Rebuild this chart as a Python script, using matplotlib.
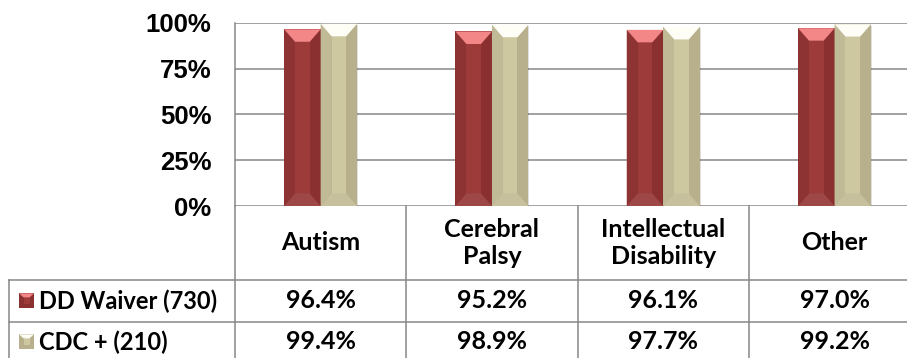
import matplotlib
matplotlib.use("Agg")
from matplotlib import pyplot as plt
from matplotlib import transforms
from matplotlib.patches import Polygon, Rectangle

categories = ["Autism", "Cerebral\nPalsy", "Intellectual\nDisability", "Other"]
series_names = ["DD Waiver (730)", "CDC + (210)"]
dd_waiver = [96.4, 95.2, 96.1, 97.0]
cdc_plus = [99.4, 98.9, 97.7, 99.2]
yticks = [0, 25, 50, 75, 100]

# side, centre, top, bottom facet colours for each series
palettes = [
    dict(side="#8a3030", left="#8e3333", centre="#9c3b3a", top="#f38686", bottom="#9d4747"),
    dict(side="#b8b08c", left="#c1ba97", centre="#cec8a1", top="#fffef6", bottom="#c7c09d"),
]

W, H = 907, 358
DPI = 100
GRID = "#878787"
TABLE_FONT = "Lato"

fig = plt.figure(figsize=(W / DPI, H / DPI), dpi=DPI)

# plot area in pixels
left_px, right_px = 235, 907
top_px, bottom_px = 22.7, 206
col_px = 171.3
ax = fig.add_axes([left_px / W, 1 - bottom_px / H,
                   (right_px - left_px) / W, (bottom_px - top_px) / H])
ax.set_xlim(-0.5, -0.5 + (right_px - left_px) / col_px)
ax.set_ylim(0, 100)
ax.set_yticks(yticks)
ax.set_yticklabels([f"{t}%" for t in yticks], fontsize=18.5, fontweight="bold",
                   family="Liberation Sans")
ax.tick_params(axis="y", length=0, pad=17)
ax.set_xticks([])
for s in ["top", "right", "bottom"]:
    ax.spines[s].set_visible(False)
ax.spines["left"].set_color(GRID)
ax.spines["left"].set_linewidth(1.1)
ax.yaxis.grid(True, color=GRID, linewidth=1.1)
ax.set_axisbelow(True)

bar_w = 0.213
bevel_y = 12.5 / (bottom_px - top_px) * 100


def bevel_bar(ax, x0, w, h, pal):
    x1 = x0 + w
    bx = 0.3 * w
    by = min(bevel_y, h / 2)
    # soft shadow
    ax.add_patch(Rectangle((x0 + 0.006, -0.8), w, h, color="#000000", alpha=0.12,
                           zorder=2, lw=0))
    ax.add_patch(Rectangle((x0, 0), w, h, color=pal["side"], zorder=3, lw=0))
    ax.add_patch(Polygon([(x0, 0), (x0 + bx, by), (x0 + bx, h - by), (x0, h)],
                         color=pal["left"], zorder=3, lw=0))
    ax.add_patch(Rectangle((x0 + bx, by), w - 2 * bx, h - 2 * by,
                           color=pal["centre"], zorder=3, lw=0))
    ax.add_patch(Polygon([(x0, h), (x1, h), (x1 - bx, h - by), (x0 + bx, h - by)],
                         color=pal["top"], zorder=4, lw=0))
    ax.add_patch(Polygon([(x0, 0), (x1, 0), (x1 - bx, by), (x0 + bx, by)],
                         color=pal["bottom"], zorder=4, lw=0))


for k, vals in enumerate([dd_waiver, cdc_plus]):
    for i, v in enumerate(vals):
        bevel_bar(ax, i - bar_w + k * bar_w, bar_w, v, palettes[k])

# data table underneath, x in category units, y in pixels
over = fig.add_axes([0, 0, 1, 1], facecolor="none")
over.set_xlim(0, W)
over.set_ylim(H, 0)
over.axis("off")
tr = transforms.blended_transform_factory(ax.transData, over.transData)

row_edges = [bottom_px, 280, 321.7, 362]
n = len(categories)
lk = dict(color=GRID, linewidth=1.1, clip_on=False)

# vertical lines between category columns
for i in range(n):
    over.plot([i - 0.5, i - 0.5], [bottom_px, H], transform=tr, **lk)
# horizontal row lines
for y in row_edges[1:3]:
    over.plot([9.3, W], [y, y], **lk)
over.plot([9.3, 9.3], [row_edges[1], H], **lk)

tk = dict(family=TABLE_FONT, fontweight="bold", fontsize=18, ha="center",
          va="center", linespacing=1.25)
hdr_y = (row_edges[0] + row_edges[1]) / 2
for i, c in enumerate(categories):
    over.text(i, hdr_y, c, transform=tr, **tk)

for k, (name, vals) in enumerate(zip(series_names, [dd_waiver, cdc_plus])):
    yc = (row_edges[k + 1] + row_edges[k + 2]) / 2
    for i, v in enumerate(vals):
        over.text(i, yc, f"{v:.1f}%", transform=tr, **tk)
    over.text(39, yc, name, ha="left", va="center", family=TABLE_FONT,
              fontweight="bold", fontsize=17)
    # legend key: small bevelled square
    pal = palettes[k]
    kx, ky, ks = 19, yc - 7.5, 15
    over.add_patch(Rectangle((kx, ky), ks, ks, color=pal["side"], lw=0))
    over.add_patch(Rectangle((kx + ks * 0.3, ky + 4), ks * 0.4, ks - 8,
                             color=pal["centre"], lw=0))
    over.add_patch(Polygon([(kx, ky), (kx + ks, ky), (kx + ks * 0.7, ky + 4),
                            (kx + ks * 0.3, ky + 4)], color=pal["top"], lw=0))

fig.savefig("out.png", dpi=DPI)
